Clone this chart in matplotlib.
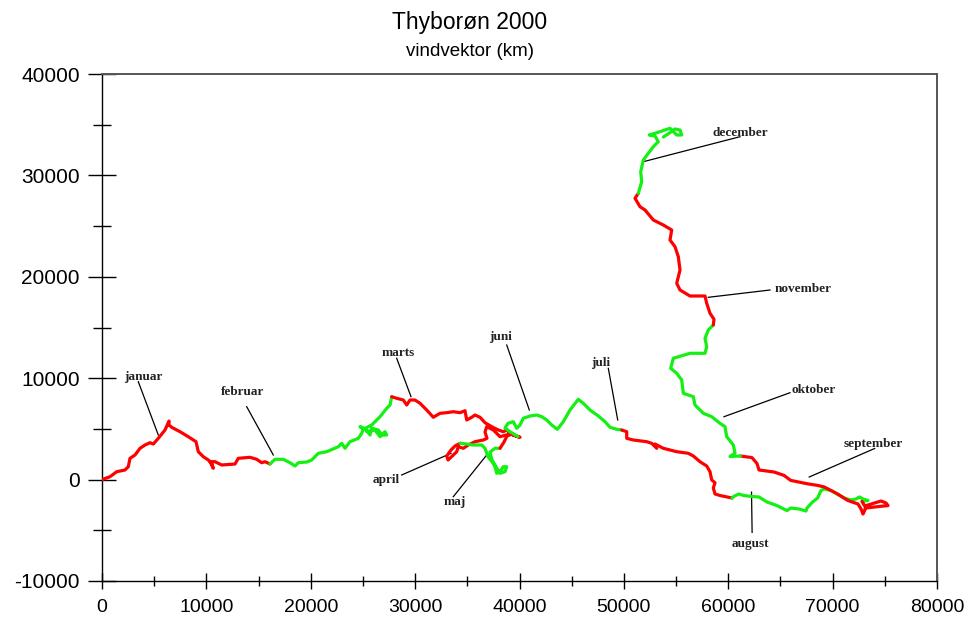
import matplotlib
matplotlib.use("Agg")
import matplotlib.pyplot as plt
from matplotlib.ticker import MultipleLocator

plt.rcParams["axes.unicode_minus"] = False

# kumuleret vindvektor (km), et segment pr. maaned
jan_x = [0, 766, 1408, 2204, 2520, 2683, 3162, 3641, 4120, 4599, 4915, 5394, 6036, 6419, 6419, 6678,
         7473, 8268, 9006, 9227, 9706, 10185, 10510, 10664, 10347, 10826, 11468, 12743, 13059, 14180,
         14822, 15301, 15617, 16096]
jan_y = [0, 286, 779, 947, 1272, 2100, 2426, 3087, 3412, 3638, 3510, 4072, 4891, 5778, 5383, 5156,
         4723, 4230, 3737, 2751, 2258, 1932, 1607, 1114, 1765, 1765, 1440, 1538, 2100, 2199,
         2002, 1666, 1765, 1538]

feb_x = [16096, 16575, 17370, 18012, 18491, 18807, 19612, 20091, 20724, 21529, 22640, 22966, 23282,
         23761, 24556, 24882, 25035, 24719, 25361, 25677, 25840, 26472, 26798, 27277, 27114, 26635,
         26156, 25361, 25198, 25840, 26635, 27277, 27594, 27757]
feb_y = [1538, 2002, 2002, 1666, 1341, 1666, 1735, 1932, 2593, 2751, 3244, 3579, 3086,
         3737, 4072, 4565, 5058, 5216, 4891, 4398, 5058, 4891, 4398, 4398, 4723, 4230,
         4891, 4723, 5058, 5384, 6202, 7030, 7356, 8174]

mar_x = [27757, 28235, 28868, 29193, 29509, 29989, 30468, 31109, 31742, 32384, 33026, 33658, 34300,
         34779, 34942, 35421, 35737, 36216, 36695, 37337, 37970, 38449, 38774, 39090, 39407, 40049,
         39090, 38132, 37491, 36858, 36695, 36887, 36533, 35737, 35096, 34616, 34137, 33984, 33658,
         33150, 33026, 33438, 33821, 34300]
mar_y = [8174, 8018, 7850, 7357, 7850, 7850, 7525, 6864, 6144, 6539, 6598, 6696, 6598,
         6795, 5878, 6144, 6371, 6144, 5611, 5217, 4892, 4724, 4892, 4566, 4398, 4172,
         4497, 4231, 4892, 5217, 4694, 4073, 3905, 3738, 3412, 3087, 3245, 2752, 2426,
         1933, 2327, 2919, 3314, 3580]

apr_x = [34300, 34942, 35543, 36379, 36695, 36982, 37461, 37653, 37816, 38132, 38449, 38774, 38611,
         38132, 37816, 37366, 37174, 37653, 38132]
apr_y = [3580, 3511, 3412, 3412, 3087, 2258, 1637, 1272, 621, 779, 1272, 1272, 779,
         621, 1144, 1933, 2722, 3087, 3087]

maj_x = [38132, 38516, 38802, 39300, 39857]
maj_y = [3087, 3708, 4300, 4500, 4231]

jun_x = [39857, 39090, 38611, 38898, 39407, 39733, 40049, 40364, 41007, 41649, 42128, 42607, 43086,
         43623, 44197, 44839, 45634, 46113, 46755, 47551, 48192, 48672, 49314, 49793]
jun_y = [4231, 4724, 5089, 5552, 5710, 5059, 5385, 6045, 6272, 6371, 6203, 5878, 5385,
         4961, 5710, 6864, 7919, 7525, 6864, 6272, 5710, 5158, 4961, 4892]

jul_x = [49793, 50272, 50272, 50905, 52187, 52666, 53146, 52983, 53778, 54420, 55062, 56173, 56653,
         57294, 57936, 58252, 58415, 58732, 58569, 58732, 59210, 60360]
jul_y = [4892, 4724, 4073, 3905, 3738, 3580, 3087, 3511, 3087, 2919, 2752, 2594, 2327,
         1765, 1341, 779, -39, -306, -828, -1420, -1568, -1815]

aug_x = [60360, 60523, 61002, 61491, 62276, 62947, 63714, 64672, 65630, 65984, 66780, 67450, 67546,
         68073, 68562, 68887, 69204, 69845, 70487, 71129, 71762, 72241, 72576, 72911, 73390, 72816]
aug_y = [-1815, -1667, -1420, -1568, -1667, -1716, -2209, -2564, -3057, -2801, -2899, -3097, -2801,
         -2209, -1815, -1075, -927, -1075, -1469, -1815, -2012, -1913, -1716, -1913, -2061, -2160]

sep_x = [72816, 73199, 74349, 75307, 75115, 74636, 73199, 73064, 72911, 72720, 72432, 71455, 70487,
         69204, 68562, 67594, 65984, 65342, 64384, 62947, 62756, 62276, 61165]
sep_y = [-2160, -2801, -2663, -2564, -2308, -2110, -2564, -3057, -3393, -2899, -2406, -2061, -1420,
         -730, -572, -414, -79, 414, 750, 947, 1578, 2170, 2327]

okt_x = [61165, 60169, 60648, 60485, 59852, 59690, 59210, 58415, 57611, 56815, 56653, 55695, 55541,
         55062, 54487, 54736, 56336, 57773, 57936, 57773, 58090, 58569]
okt_y = [2327, 2278, 2623, 3412, 4231, 5217, 5552, 6203, 6539, 7357, 8176, 8511, 9823,
         10483, 10976, 11963, 12456, 12456, 13106, 13935, 14754, 15247]

nov_x = [58569, 58635, 58252, 57936, 57773, 56336, 55378, 55062, 55378, 55215, 54899, 54420, 54582,
         53778, 52820, 52025, 51546, 51067, 51383]
nov_y = [15247, 15809, 16401, 17387, 18106, 18106, 18698, 19359, 20671, 21982, 22969, 23629, 24616,
         25109, 25602, 26588, 26914, 27742, 28235]

dec_x = [51383, 51709, 51613, 51862, 52341, 52820, 53299, 52983, 52437, 53078, 53653, 54420, 55062,
         55541, 55378, 54899, 54228, 53778]
dec_y = [28235, 29379, 30365, 31519, 32180, 32831, 33324, 33886, 33985, 34182, 34379, 34645, 33985,
         33985, 34478, 34577, 34083, 33788]

month_x = [jan_x, feb_x, mar_x, apr_x, maj_x, jun_x, jul_x, aug_x, sep_x, okt_x, nov_x, dec_x]
month_y = [jan_y, feb_y, mar_y, apr_y, maj_y, jun_y, jul_y, aug_y, sep_y, okt_y, nov_y, dec_y]

# maanedsetiketter: tekstposition og streg til kurven
label_names = ["januar", "februar", "marts", "april", "maj", "juni",
               "juli", "august", "september", "oktober", "november", "december"]
label_x = [3930, 13440, 28394, 27210, 33821, 38228, 47781, 62133, 73928, 68217, 67192, 61194]
label_y = [10120, 8610, 12456, -40, -2180, 14034, 11470, -6371, 3560, 8836, 18767, 34152]
line_x0 = [3478, 13864, 28235, 28714, 33658, 38774, 48509, 62286, 74023, 65917, 64001, 61127]
line_y0 = [9655, 7189, 11963, 454, -1686, 13274, 10976, -5207, 3067, 8570, 18698, 33817]
line_x1 = [5394, 16412, 29605, 33438, 36858, 40940, 49409, 62229, 67757, 59594, 58090, 51862]
line_y1 = [4398, 2426, 8176, 2594, 2426, 6864, 5878, -1233, 256, 6203, 17978, 31351]

RED = "#FF0000"
GREEN = "#14F014"

fig = plt.figure(figsize=(9.73, 6.3), dpi=100, facecolor="white")
ax = fig.add_axes([102 / 973, 1 - 581 / 630, 835 / 973, 507 / 630])

for i, (xs, ys) in enumerate(zip(month_x, month_y)):
    ax.plot(xs, ys, color=RED if i % 2 == 0 else GREEN, lw=2.3,
            solid_capstyle="round", solid_joinstyle="round", zorder=3)

for name, tx, ty, x0, y0, x1, y1 in zip(label_names, label_x, label_y,
                                        line_x0, line_y0, line_x1, line_y1):
    ax.plot([x0, x1], [y0, y1], color="black", lw=0.9, zorder=2)
    ax.text(tx, ty, name, ha="center", va="center", fontsize=9.5,
            fontweight="bold", family="Liberation Serif", color="#222222")

ax.set_xlim(0, 80000)
ax.set_ylim(-10000, 40000)
ax.xaxis.set_major_locator(MultipleLocator(10000))
ax.xaxis.set_minor_locator(MultipleLocator(5000))
ax.yaxis.set_major_locator(MultipleLocator(10000))
ax.yaxis.set_minor_locator(MultipleLocator(5000))

ax.tick_params(axis="y", which="major", direction="inout", length=20, width=1, pad=6,
               labelsize=15)
ax.tick_params(axis="y", which="minor", direction="inout", length=13, width=1)
ax.tick_params(axis="x", which="major", direction="inout", length=11.5, width=1, pad=7,
               labelsize=14)
ax.tick_params(axis="x", which="minor", direction="inout", length=7, width=1)
for lab in ax.get_xticklabels() + ax.get_yticklabels():
    lab.set_family("Liberation Sans")

for side in ("left", "bottom"):
    ax.spines[side].set_color("black")
    ax.spines[side].set_linewidth(1)
for side in ("top", "right"):
    ax.spines[side].set_color("#555555")
    ax.spines[side].set_linewidth(1.4)

fig.text(470 / 973, 1 - 29 / 630, "Thyborøn 2000", ha="center", va="baseline",
         fontsize=16.5, family="Liberation Sans")
fig.text(470 / 973, 1 - 56 / 630, "vindvektor (km)", ha="center", va="baseline",
         fontsize=13.5, family="Liberation Sans")

fig.savefig("out.png", dpi=100, facecolor="white")
